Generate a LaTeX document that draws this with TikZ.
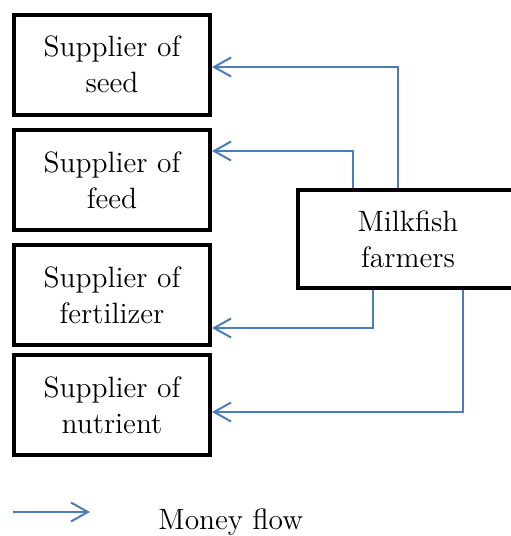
\documentclass[tikz,border=0pt]{standalone}
\usetikzlibrary{arrows.meta,calc}

\definecolor{flowblue}{RGB}{74,126,187}
\tikzset{
	Supplier/.style = {draw, line width=2pt, minimum width=98pt, minimum height=50pt, align=center, inner sep=0pt},
	MoneyFlow/.style = {draw=flowblue, line width=1pt, -{Straight Barb[length=8.5pt,width=9.5pt]}},
}

\begin{document}
\begin{tikzpicture}[x=0.5pt, y=-0.5pt, font=\fontsize{14.7}{18}\selectfont]
		\useasboundingbox (0,0) rectangle (510,536);
		\node[Supplier] (seed) at (112,64.5) {Supplier of\\seed};
		\node[Supplier] (feed) at (112,180) {Supplier of\\feed};
		\node[Supplier] (fertilizer) at (112,295) {Supplier of\\fertilizer};
		\node[Supplier] (nutrient) at (112,405) {Supplier of\\nutrient};
		\node[Supplier, minimum width=110pt, minimum height=49pt] (farmers) at (408,239) {Milkfish\\farmers};
	%	money goes from the farmers to each supplier
		\draw[MoneyFlow] ($(farmers.north west)+(102,0)$) |- ($(seed.east)+(0,2.5)$);
		\draw[MoneyFlow] ($(farmers.north west)+(57,0)$) |- ($(feed.east)+(0,-29)$);
		\draw[MoneyFlow] ($(farmers.south west)+(77,0)$) |- ($(fertilizer.east)+(0,33)$);
		\draw[MoneyFlow] ($(farmers.south west)+(167,0)$) |- ($(nutrient.east)+(0,7)$);
		\coordinate (legendA) at (13,512);
		\coordinate (legendB) at (90,512);
		\draw[MoneyFlow] (legendA) -- (legendB);
		\node[anchor=base west, inner sep=0pt] (legend) at (158,529) {Money flow};
	\end{tikzpicture}
\end{document}
